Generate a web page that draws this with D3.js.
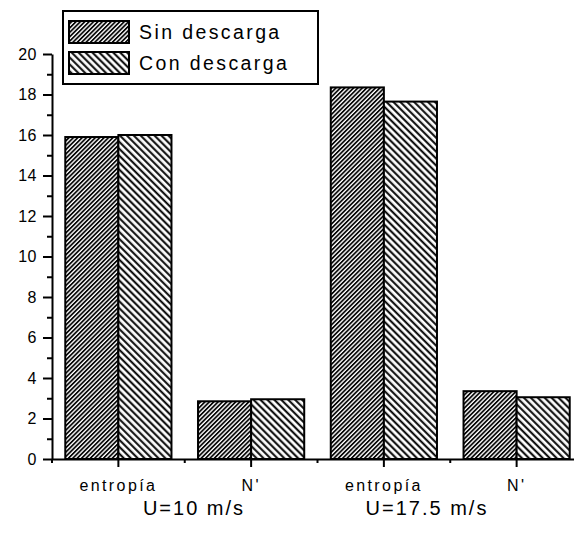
<!DOCTYPE html>
<html>
<head>
<meta charset="utf-8">
<script src="https://cdn.jsdelivr.net/npm/d3@7"></script>
<style>
  html, body { margin: 0; padding: 0; background: #fff; }
  svg { display: block; font-family: "Liberation Sans", Arial, sans-serif; }
</style>
</head>
<body>
<svg id="chart" width="574" height="533"></svg>
<script>
// Category labels along the x axis (two per wind speed)
const categories = ["entropía", "N'", "entropía", "N'"];
// Wind-speed group captions under each pair of categories
const groups = ["U=10 m/s", "U=17.5 m/s"];
// Series
const seriesNames = ["Sin descarga", "Con descarga"];
const sinDescarga = [15.9, 2.85, 18.35, 3.35];
const conDescarga = [16.0, 2.95, 17.65, 3.05];
// Y axis ticks
const yMajorTicks = [0, 2, 4, 6, 8, 10, 12, 14, 16, 18, 20];
const yMinorTicks = [1, 3, 5, 7, 9, 11, 13, 15, 17, 19];

const svg = d3.select("#chart");

const plotLeft = 52, plotRight = 583, plotTop = 54, plotBottom = 459;

const x0 = d3.scaleBand()
  .domain(d3.range(categories.length))
  .range([plotLeft, plotRight])
  .padding(0);

const step = x0.bandwidth();
const x1 = d3.scaleBand()
  .domain(seriesNames)
  .range([step * 0.1, step * 0.9])
  .padding(0);

const y = d3.scaleLinear().domain([0, 20]).range([plotBottom, plotTop]);

// Hatch patterns
const defs = svg.append("defs");
const sinPat = defs.append("pattern")
  .attr("id", "hatch-sin")
  .attr("patternUnits", "userSpaceOnUse")
  .attr("width", 3.1).attr("height", 10)
  .attr("patternTransform", "rotate(45)");
sinPat.append("rect").attr("width", 3.1).attr("height", 10).attr("fill", "#fff");
sinPat.append("line")
  .attr("x1", 0.9).attr("x2", 0.9).attr("y1", 0).attr("y2", 10)
  .attr("stroke", "#000").attr("stroke-width", 1.7);

const conPat = defs.append("pattern")
  .attr("id", "hatch-con")
  .attr("patternUnits", "userSpaceOnUse")
  .attr("width", 4.9).attr("height", 10)
  .attr("patternTransform", "rotate(-45)");
conPat.append("rect").attr("width", 4.9).attr("height", 10).attr("fill", "#fff");
conPat.append("line")
  .attr("x1", 1.2).attr("x2", 1.2).attr("y1", 0).attr("y2", 10)
  .attr("stroke", "#000").attr("stroke-width", 2);

const fills = { "Sin descarga": "url(#hatch-sin)", "Con descarga": "url(#hatch-con)" };

const rows = categories.map((c, i) => ({
  i,
  values: [
    { key: seriesNames[0], value: sinDescarga[i] },
    { key: seriesNames[1], value: conDescarga[i] }
  ]
}));

// Bars
const g = svg.append("g")
  .selectAll("g")
  .data(rows)
  .join("g")
  .attr("transform", d => `translate(${x0(d.i)},0)`);

g.selectAll("rect")
  .data(d => d.values)
  .join("rect")
  .attr("x", d => x1(d.key))
  .attr("y", d => y(d.value))
  .attr("width", x1.bandwidth())
  .attr("height", d => y(0) - y(d.value))
  .attr("fill", d => fills[d.key])
  .attr("stroke", "#000")
  .attr("stroke-width", 2);

// Y axis
const yAxis = svg.append("g")
  .attr("transform", `translate(${plotLeft},0)`)
  .call(d3.axisLeft(y).tickValues(yMajorTicks).tickSize(9).tickSizeOuter(0).tickPadding(6));
yAxis.select(".domain").attr("stroke-width", 2);
yAxis.selectAll(".tick line").attr("stroke-width", 2);
yAxis.selectAll(".tick text")
  .style("font-size", "16px")
  .style("font-family", "'Liberation Sans', Arial, sans-serif")
  .attr("letter-spacing", 0.5)
  .attr("fill", "#000");

const yMinor = svg.append("g")
  .attr("transform", `translate(${plotLeft},0)`)
  .call(d3.axisLeft(y).tickValues(yMinorTicks).tickSize(5).tickFormat(""));
yMinor.select(".domain").remove();
yMinor.selectAll(".tick line").attr("stroke-width", 2);

// X axis
const xAxis = svg.append("g")
  .attr("transform", `translate(0,${plotBottom})`)
  .call(d3.axisBottom(x0).tickSize(8).tickSizeOuter(0).tickPadding(13)
    .tickFormat(i => categories[i]));
xAxis.select(".domain").attr("stroke-width", 2);
xAxis.selectAll(".tick line").attr("stroke-width", 2);
xAxis.selectAll(".tick text")
  .style("font-size", "16px")
  .style("font-family", "'Liberation Sans', Arial, sans-serif")
  .attr("letter-spacing", 2.4)
  .attr("fill", "#000");

// Minor ticks at band boundaries
const boundaries = d3.range(categories.length + 1).map(i => plotLeft + i * step);
svg.append("g")
  .selectAll("line")
  .data(boundaries)
  .join("line")
  .attr("x1", d => d).attr("x2", d => d)
  .attr("y1", plotBottom).attr("y2", plotBottom + 4)
  .attr("stroke", "#000").attr("stroke-width", 2);

// Group captions under each pair of categories
const groupX = [194, 427];
svg.append("g")
  .selectAll("text")
  .data(groups)
  .join("text")
  .attr("x", (d, i) => groupX[i])
  .attr("y", 515)
  .attr("text-anchor", "middle")
  .style("font-size", "20px")
  .attr("letter-spacing", 2)
  .text(d => d);

// Legend
const legend = svg.append("g");
legend.append("rect")
  .attr("x", 63).attr("y", 11).attr("width", 255).attr("height", 73)
  .attr("fill", "#fff").attr("stroke", "#000").attr("stroke-width", 2);
const items = legend.selectAll("g.item")
  .data(seriesNames)
  .join("g")
  .attr("class", "item")
  .attr("transform", (d, i) => `translate(0,${i * 31})`);
items.append("rect")
  .attr("x", 69).attr("y", 21).attr("width", 60).attr("height", 22)
  .attr("fill", d => fills[d]).attr("stroke", "#000").attr("stroke-width", 2);
items.append("text")
  .attr("x", 139).attr("y", 39)
  .style("font-size", "19.5px")
  .attr("letter-spacing", 2.4)
  .text(d => d);
</script>
</body>
</html>
